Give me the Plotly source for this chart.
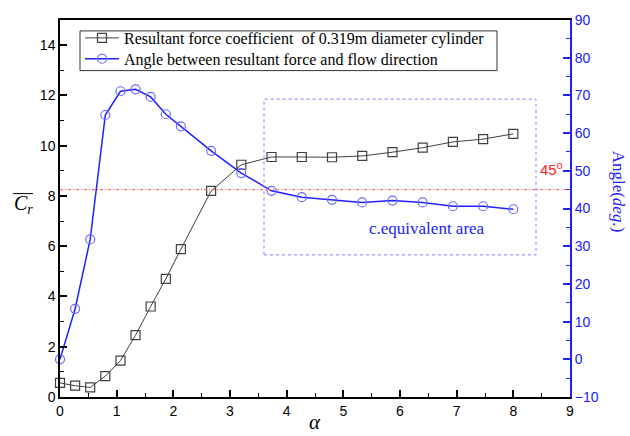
import plotly.graph_objects as go

# Data
alpha = [0, 0.267, 0.533, 0.8, 1.067, 1.333, 1.6, 1.867, 2.133, 2.667, 3.2, 3.733,
         4.267, 4.8, 5.333, 5.867, 6.4, 6.933, 7.467, 8.0]
cr = [0.56, 0.45, 0.38, 0.83, 1.45, 2.46, 3.6, 4.7, 5.88, 8.2, 9.24, 9.55,
      9.55, 9.54, 9.59, 9.74, 9.92, 10.15, 10.26, 10.47]
angle = [0.0, 13.4, 31.8, 64.8, 71.1, 71.6, 69.6, 65.0, 61.8, 55.3, 49.4, 44.7,
         43.0, 42.3, 41.6, 42.1, 41.6, 40.6, 40.6, 39.8]
ref_angle = 45
box_x = [3.6, 8.4]
box_y = [27.7, 69.0]

serif = "Liberation Serif"
sans = "Liberation Sans"
blue = "#2020ff"

W, H = 630, 436
L, R, T, B = 60, 60, 17, 39
pw, ph = W - L - R, H - T - B

def px(xp):
    return (xp - L) / pw

def py(yp):
    return 1 - (yp - T) / ph

fig = go.Figure()
fig.add_trace(go.Scatter(
    x=alpha, y=cr, mode="lines+markers",
    name="Resultant force coefficient  of 0.319m diameter cylinder",
    line=dict(color="#404040", width=1),
    marker=dict(symbol="square-open", size=9, color="#404040", line=dict(width=1.2)),
    cliponaxis=False, legend="legend",
))
fig.add_trace(go.Scatter(
    x=alpha, y=angle, mode="lines+markers", yaxis="y2",
    name="Angle between resultant force and flow direction",
    line=dict(color=blue, width=1.5),
    marker=dict(symbol="circle-open", size=9, color="#6a6aff", line=dict(width=1.2)),
    cliponaxis=False, legend="legend2",
))

# dotted box (equivalent area)
fig.add_shape(type="rect", xref="x", yref="y2", x0=box_x[0], x1=box_x[1],
              y0=box_y[0], y1=box_y[1],
              line=dict(color="#8080ff", width=1, dash="dot"))
# 45 deg reference line
fig.add_shape(type="line", xref="paper", yref="y2", x0=0, x1=1,
              y0=ref_angle, y1=ref_angle,
              line=dict(color="#ff5050", width=1, dash="3px,2px,1px,2px"))
# legend frame
fig.add_shape(type="rect", xref="paper", yref="paper",
              x0=px(80), x1=px(497), y0=py(68), y1=py(28),
              line=dict(color="#333", width=1))

fig.add_annotation(x=6.48, y=34.8, xref="x", yref="y2", text="c.equivalent area",
                   xanchor="center", yanchor="middle",
                   showarrow=False, font=dict(family=serif, size=17, color=blue))
fig.add_annotation(x=px(551), y=py(167), xref="paper", yref="paper", text="45<sup>o</sup>",
                   xanchor="center", yanchor="middle",
                   showarrow=False, font=dict(family=sans, size=15, color="#ff2020"))

# Left axis title: C_r with overline
fig.add_annotation(x=px(23), y=py(203), xref="paper", yref="paper",
                   xanchor="center", yanchor="middle",
                   text="<i>C</i><sub><i>r</i></sub>", showarrow=False,
                   font=dict(family=serif, size=20, color="black"))
fig.add_shape(type="line", xref="paper", yref="paper",
              x0=px(13), x1=px(33), y0=py(192), y1=py(192),
              line=dict(color="black", width=1))
# Right axis title
fig.add_annotation(x=px(618), y=py(190), xref="paper", yref="paper",
                   xanchor="center", yanchor="middle",
                   text="Angle(<i>deg.</i>)", textangle=90, showarrow=False,
                   font=dict(family=serif, size=17, color=blue))
# x axis title
fig.add_annotation(x=px(315), y=py(436), xref="paper", yref="paper",
                   xanchor="center", yanchor="bottom",
                   text="<i>α</i>", showarrow=False,
                   font=dict(family=serif, size=21, color="black"))

leg_common = dict(xanchor="left", yanchor="top", borderwidth=0,
                  bgcolor="rgba(255,255,255,0)", itemwidth=34,
                  font=dict(family=serif, size=16, color="black"))

fig.update_layout(
    width=W, height=H,
    margin=dict(l=L, r=R, t=T, b=B),
    paper_bgcolor="white", plot_bgcolor="white",
    showlegend=True,
    legend=dict(x=px(80), y=py(18), **leg_common),
    legend2=dict(x=px(80), y=py(39), **leg_common),
    xaxis=dict(range=[0, 9], dtick=1, tick0=0, ticks="inside", ticklen=7, tickwidth=1.5,
               tickcolor="black", showline=True, linecolor="black", linewidth=1.5,
               mirror=True, showgrid=False, zeroline=False,
               tickfont=dict(family=sans, size=14, color="black"),
               minor=dict(dtick=0.5, ticks="inside", ticklen=4, tickcolor="black", tickwidth=1)),
    yaxis=dict(range=[0, 15], dtick=2, tick0=0, ticks="inside", ticklen=7, tickwidth=1.5,
               tickcolor="black", showline=True, linecolor="black", linewidth=1.5,
               showgrid=False, zeroline=False,
               tickfont=dict(family=sans, size=14, color="black"),
               minor=dict(dtick=1, ticks="inside", ticklen=4, tickcolor="black", tickwidth=1)),
    yaxis2=dict(range=[-10, 90], dtick=10, tick0=-10, overlaying="y", side="right",
                ticks="inside", ticklen=7, tickwidth=1.5, tickcolor=blue,
                showline=True, linecolor=blue, linewidth=2,
                showgrid=False, zeroline=False,
                tickfont=dict(family=sans, size=14, color=blue),
                minor=dict(dtick=5, ticks="inside", ticklen=4, tickcolor=blue, tickwidth=1)),
)

fig.write_html("out.html")
